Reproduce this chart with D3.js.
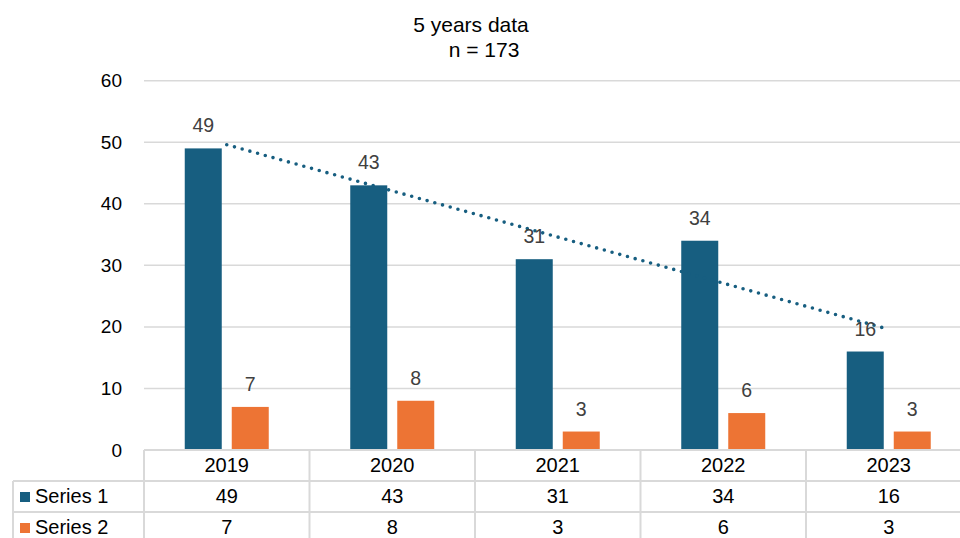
<!DOCTYPE html>
<html>
<head>
<meta charset="utf-8">
<script src="https://cdn.jsdelivr.net/npm/d3@7"></script>
<style>
  body { margin: 0; background: #fff; }
  svg { display: block; font-family: "Liberation Sans", Arial, sans-serif; }
</style>
</head>
<body>
<svg></svg>
<script>
// chart data
const years = ["2019", "2020", "2021", "2022", "2023"];
const seriesNames = ["Series 1", "Series 2"];
const series1 = [49, 43, 31, 34, 16];
const series2 = [7, 8, 3, 6, 3];
const yTicks = [0, 10, 20, 30, 40, 50, 60];
const colors = ["#175e80", "#ed7434"];

const width = 960, height = 538;
const svg = d3.select("svg").attr("width", width).attr("height", height);

const plotLeft = 144, plotRight = 971.5;
const plotTop = 80.7, plotBottom = 450;
const rowH = 31;

// scales
const x = d3.scaleBand().domain(years).range([plotLeft, plotRight]);
const xSub = d3.scaleBand().domain(seriesNames).range([0, 84]).paddingInner(10 / 47);
const y = d3.scaleLinear().domain([0, 60]).range([plotBottom, plotTop]);

const gridColor = "#d9d9d9";

// gridlines
svg.append("g")
  .selectAll("line")
  .data(yTicks.filter(d => d > 0))
  .enter().append("line")
  .attr("x1", plotLeft).attr("x2", plotRight)
  .attr("y1", d => y(d)).attr("y2", d => y(d))
  .attr("stroke", gridColor).attr("stroke-width", 1.5);

// y axis labels
const yAxis = svg.append("g")
  .attr("transform", `translate(${plotLeft - 22}, 0)`)
  .call(d3.axisLeft(y).tickValues(yTicks).tickSize(0).tickPadding(0));
yAxis.select(".domain").remove();
yAxis.selectAll("text")
  .attr("font-size", 19)
  .attr("font-family", "Liberation Sans, Arial, sans-serif")
  .attr("fill", "#000");

// bars
const allSeries = [series1, series2];
const barData = [];
allSeries.forEach((vals, si) => {
  vals.forEach((v, i) => barData.push({ year: years[i], name: seriesNames[si], value: v, si }));
});

const groupX = d => x(d.year) + x.bandwidth() / 2 - 42 + xSub(d.name);

svg.append("g")
  .selectAll("rect")
  .data(barData)
  .enter().append("rect")
  .attr("x", groupX)
  .attr("y", d => y(d.value))
  .attr("width", xSub.bandwidth())
  .attr("height", d => plotBottom - y(d.value))
  .attr("fill", d => colors[d.si]);

// trendline for series 1 (least squares)
const xs = years.map((d, i) => i + 1);
const mx = d3.mean(xs), my = d3.mean(series1);
const slope = d3.sum(xs, (xi, i) => (xi - mx) * (series1[i] - my)) / d3.sum(xs, xi => (xi - mx) ** 2);
const intercept = my - slope * mx;
const trendPts = [xs[0], xs[xs.length - 1]].map(xi => [
  x(years[xi - 1]) + x.bandwidth() / 2,
  y(intercept + slope * xi)
]);
svg.append("path")
  .attr("d", d3.line()(trendPts))
  .attr("fill", "none")
  .attr("stroke", colors[0])
  .attr("stroke-width", 3.6)
  .attr("stroke-linecap", "round")
  .attr("stroke-dasharray", "0 8");

// data labels
svg.append("g")
  .selectAll("text")
  .data(barData)
  .enter().append("text")
  .attr("x", d => groupX(d) + xSub.bandwidth() / 2)
  .attr("y", d => y(d.value) - 16)
  .attr("text-anchor", "middle")
  .attr("font-size", 19.5)
  .attr("fill", "#404040")
  .text(d => d.value);

// title
svg.append("text")
  .attr("x", 471).attr("y", 32)
  .attr("text-anchor", "middle")
  .attr("font-size", 21)
  .attr("fill", "#000")
  .text("5 years data");
svg.append("text")
  .attr("x", 484).attr("y", 57)
  .attr("text-anchor", "middle")
  .attr("font-size", 21)
  .attr("fill", "#000")
  .text("n = 173");

// data table
const table = svg.append("g");
const tableLeft = 13;
const rowYs = [plotBottom, plotBottom + rowH, plotBottom + rowH * 2];

// horizontal lines
table.append("line")
  .attr("x1", plotLeft).attr("x2", plotRight)
  .attr("y1", rowYs[0]).attr("y2", rowYs[0])
  .attr("stroke", gridColor).attr("stroke-width", 2);
[rowYs[1], rowYs[2], rowYs[2] + rowH].forEach(ry => {
  table.append("line")
    .attr("x1", tableLeft).attr("x2", plotRight)
    .attr("y1", ry).attr("y2", ry)
    .attr("stroke", gridColor).attr("stroke-width", 2);
});

// vertical lines
const colEdges = years.map(d => x(d)).concat([plotRight]);
colEdges.forEach(cx => {
  table.append("line")
    .attr("x1", cx).attr("x2", cx)
    .attr("y1", rowYs[0]).attr("y2", height + 10)
    .attr("stroke", gridColor).attr("stroke-width", 2);
});
table.append("line")
  .attr("x1", tableLeft).attr("x2", tableLeft)
  .attr("y1", rowYs[1]).attr("y2", height + 10)
  .attr("stroke", gridColor).attr("stroke-width", 2);

// header row
table.selectAll(".yr")
  .data(years)
  .enter().append("text")
  .attr("x", d => x(d) + x.bandwidth() / 2)
  .attr("y", rowYs[0] + 22)
  .attr("text-anchor", "middle")
  .attr("font-size", 20)
  .attr("fill", "#000")
  .text(d => d);

// series rows
allSeries.forEach((vals, si) => {
  const ry = rowYs[si + 1];
  table.append("rect")
    .attr("x", 20).attr("y", ry + 11)
    .attr("width", 10).attr("height", 10)
    .attr("fill", colors[si]);
  table.append("text")
    .attr("x", 35).attr("y", ry + 22)
    .attr("font-size", 20)
    .attr("fill", "#000")
    .text(seriesNames[si]);
  table.selectAll(".v" + si)
    .data(vals)
    .enter().append("text")
    .attr("x", (d, i) => x(years[i]) + x.bandwidth() / 2)
    .attr("y", ry + 22)
    .attr("text-anchor", "middle")
    .attr("font-size", 20)
    .attr("fill", "#000")
    .text(d => d);
});
</script>
</body>
</html>
